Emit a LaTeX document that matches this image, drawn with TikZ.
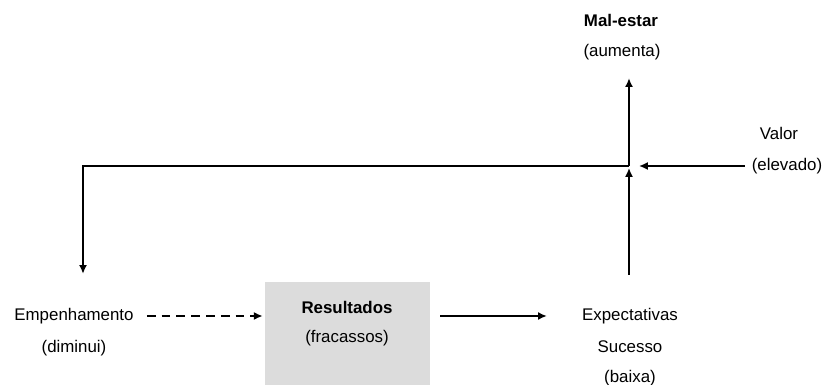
\documentclass[tikz,border=0pt]{standalone}
\usepackage{fontspec}
\setmainfont{Liberation Sans}
\usetikzlibrary{arrows.meta}
\definecolor{boxgray}{RGB}{220,220,220}
\begin{document}
\begin{tikzpicture}[
x=0.025cm, y=-0.025cm,
txt/.style={inner sep=0pt, font=\fontsize{12}{14}\selectfont},
resbox/.style={fill=boxgray, minimum width=4.125cm, minimum height=2.7cm, inner sep=0pt},
arr/.style={line width=1.2pt, -{Latex[length=0.22cm, width=0.2cm]}},
dasharr/.style={arr, dash pattern=on 0.22cm off 0.15cm}
]
\useasboundingbox (0,0) rectangle (825,385);

%\draw[help lines] (0,0) grid (825,385);

\node[resbox] (res) at (347.5,336) {};
\node[txt] (restitle) at (347,307) {\textbf{Resultados}};
\node[txt] (ressub) at (347,338) {(fracassos)};

\node[txt] (emp) at (74,316) {Empenhamento};
\node[txt] (empsub) at (74,348) {(diminui)};

\node[txt] (expt) at (630,316) {Expectativas};
\node[txt] (exptsub) at (630,347) {Sucesso};
\node[txt] (exptsub2) at (630,378) {(baixa)};

\node[txt] (mal) at (621,20) {\textbf{Mal-estar}};
\node[txt] (malsub) at (622,52) {(aumenta)};

\node[txt] (valor) at (779,133) {Valor};
\node[txt] (valorsub) at (787,166) {(elevado)};

\coordinate (cross) at (629,166);
\coordinate (corner) at (83,166);

\draw[dasharr, shorten <=0.325cm, shorten >=0.05cm] (emp.east) -- (res.west |- emp);
\draw[arr, shorten <=0.25cm, shorten >=0.875cm] (res.east |- emp) -- (expt.west);
\draw[arr, shorten <=0.825cm, shorten >=0.05cm] (cross |- expt.north) -- (cross);
\draw[arr, shorten >=0.45cm] (cross) -- (cross |- malsub.south);
\draw[arr, shorten <=0.175cm, shorten >=0.25cm] (valorsub.west) -- (cross);
\draw[arr, shorten >=0.85cm] (cross) -- (corner) -- (corner |- emp.north);

\end{tikzpicture}
\end{document}
